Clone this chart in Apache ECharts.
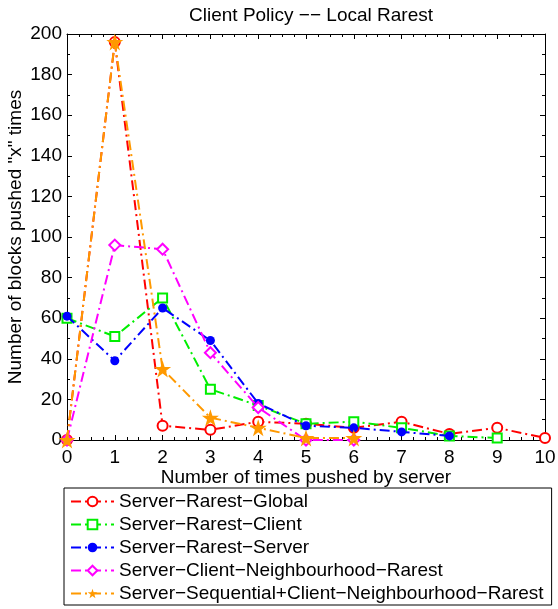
<!DOCTYPE html>
<html><head><meta charset="utf-8">
<script src="https://cdn.jsdelivr.net/npm/echarts@6/dist/echarts.min.js"></script>
<style>html,body{margin:0;padding:0;background:#fff}#c{width:558px;height:609px}</style>
</head><body><div id="c"></div>
<script>
const xValues = [0,1,2,3,4,5,6,7,8,9,10];
const rarestGlobal = [0,196,7,5,9,8,6,9,3,6,1];
const rarestClient = [60,51,70,25,17,8,9,6,2,1];
const rarestServer = [61,39,65,49,18,7,6,4,2];
const clientNeighbourhood = [0,96,94,43,16,0,0];
const sequentialNeighbourhood = [0,196,35,11,6,1,1];
const seriesNames = ['Server−Rarest−Global','Server−Rarest−Client','Server−Rarest−Server','Server−Client−Neighbourhood−Rarest','Server−Sequential+Client−Neighbourhood−Rarest'];
const yTicks = [0,20,40,60,80,100,120,140,160,180,200];

const star = 'path://M50,0 L61.8,35.3 L100,35.3 L69.1,57.1 L80.9,92.7 L50,70.9 L19.1,92.7 L30.9,57.1 L0,35.3 L38.2,35.3 Z';
const colors = ['#ff0000','#00ee00','#0000ff','#ff00ff','#ff9900'];
const symbols = ['emptyCircle','emptyRect','circle','emptyDiamond',star];
const sizes = [10,9,9,11,17];
const datasets = [rarestGlobal, rarestClient, rarestServer, clientNeighbourhood, sequentialNeighbourhood];
const font = 'Liberation Sans, Arial, sans-serif';
const fs = 19;

const series = datasets.map((d,i)=>({
  name: seriesNames[i], type:'line',
  data: d.map((v,j)=>[xValues[j], v]),
  symbol: symbols[i], symbolSize: sizes[i],
  itemStyle:{color: colors[i], borderWidth: 2},
  lineStyle:{color: colors[i], width: 2, type:[10,4,2,4]},
  z: 2+i, animation:false
}));

const chart = echarts.init(document.getElementById('c'));
const axisCommon = {
  axisLine:{show:true, onZero:false, lineStyle:{color:'#000', width:1}},
  axisTick:{show:true, inside:true, length:5, lineStyle:{color:'#000'}},
  splitLine:{show:false}
};
const minorX = {minorTick:{show:true, splitNumber:4, length:3, lineStyle:{color:'#000'}}};
const minorY = {minorTick:{show:true, splitNumber:2, length:3, lineStyle:{color:'#000'}}};
chart.setOption({
  animation:false,
  title:{text:'Client Policy −− Local Rarest', left:306, top:1, textAlign:'center',
    textStyle:{fontFamily:font, fontSize:19, fontWeight:'normal', color:'#000'}},
  grid:{left:67, right:13, top:34, bottom:169, containLabel:false, outerBoundsMode:'none'},
  legend:{
    orient:'vertical', left:64, top:488,
    data: seriesNames,
    itemWidth:43, itemHeight:12, itemGap:4,
    padding:[4,8,2,6],
    borderColor:'#000', borderWidth:1, borderRadius:0,
    textStyle:{fontFamily:font, fontSize:fs, color:'#000'}
  },
  xAxis:[
    Object.assign({type:'value', min:0, max:10, interval:1, position:'bottom',
      name:'Number of times pushed by server', nameLocation:'middle', nameGap:28, nameMoveOverlap:false,
      nameTextStyle:{fontFamily:font, fontSize:fs, color:'#000'},
      axisLabel:{fontFamily:font, fontSize:fs, color:'#000', margin:8}}, axisCommon, minorX),
    Object.assign({type:'value', min:0, max:10, interval:1, position:'top',
      axisLabel:{show:false}}, axisCommon, minorX)
  ],
  yAxis:[
    Object.assign({type:'value', min:yTicks[0], max:yTicks[yTicks.length-1], interval:20, position:'left',
      name:'Number of blocks pushed "x" times', nameLocation:'middle', nameGap:42, nameMoveOverlap:false,
      nameTextStyle:{fontFamily:font, fontSize:fs, color:'#000'},
      axisLabel:{fontFamily:font, fontSize:fs, color:'#000', margin:5}}, axisCommon, minorY),
    Object.assign({type:'value', min:yTicks[0], max:yTicks[yTicks.length-1], interval:20, position:'right',
      axisLabel:{show:false}}, axisCommon, minorY)
  ],
  series: series
});
</script></body></html>
